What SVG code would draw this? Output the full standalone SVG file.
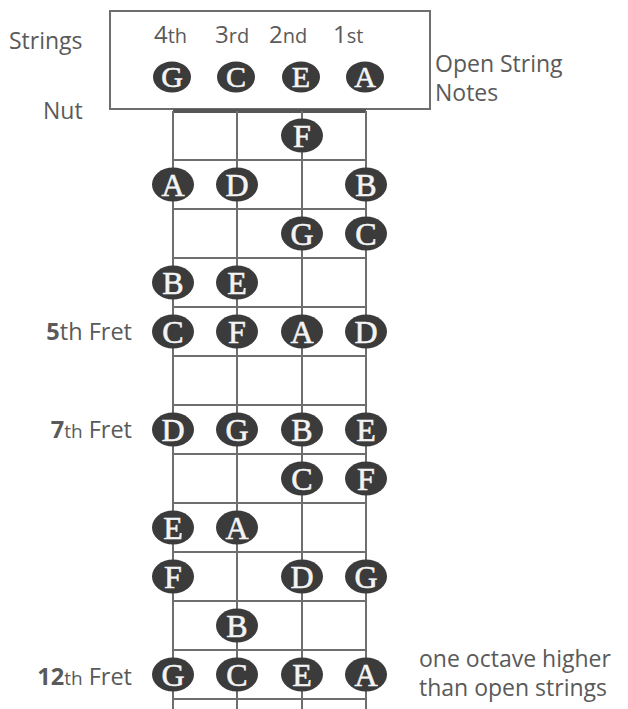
<svg xmlns="http://www.w3.org/2000/svg" width="628" height="709" viewBox="0 0 628 709">
<style>
.lbl{font-family:"Open Sans","Liberation Sans",sans-serif;fill:#5a5a5a;font-size:23px}
.hd{font-size:24px}
.sm{font-size:20px}
.b{font-weight:bold}
.fr{font-size:23.5px}
.fs{font-size:19px}
.line{stroke:#6e6e6e;stroke-width:2;fill:none}
.dot ellipse{fill:#3b3b3b}
.dot text{font-family:"Liberation Serif","Times New Roman",serif;font-size:32px;fill:#f4f4f4;stroke:#f4f4f4;stroke-width:0.6;text-anchor:middle}
.op text{font-size:30px}
</style>
<rect width="628" height="709" fill="#ffffff"/>
<g id="labels">
<text class="lbl" x="9" y="49">Strings</text>
<text class="lbl" x="43" y="119">Nut</text>
<text class="lbl hd" x="154" y="43">4<tspan class="sm">th</tspan></text>
<text class="lbl hd" x="215" y="43">3<tspan class="sm">rd</tspan></text>
<text class="lbl hd" x="269" y="43">2<tspan class="sm">nd</tspan></text>
<text class="lbl hd" x="333" y="43">1<tspan class="sm">st</tspan></text>
<text class="lbl" x="435" y="72">Open String</text>
<text class="lbl" x="435" y="101">Notes</text>
<text class="lbl fr" x="132" y="340" text-anchor="end"><tspan class="b">5</tspan>th Fret</text>
<text class="lbl fr" x="132" y="438" text-anchor="end"><tspan class="b">7</tspan><tspan class="fs">th</tspan> Fret</text>
<text class="lbl fr" x="132" y="685" text-anchor="end"><tspan class="b">12</tspan><tspan class="fs">th</tspan> Fret</text>
<text class="lbl" x="419" y="667">one octave higher</text>
<text class="lbl" x="419" y="696">than open strings</text>
</g>
<g id="board">
<rect class="line" x="110" y="11" width="320" height="98" stroke-width="1.5"/>
<line x1="173" y1="111" x2="366" y2="111" stroke="#555" stroke-width="4"/>
<g class="line">
<line x1="173" y1="111" x2="173" y2="709"/>
<line x1="237" y1="111" x2="237" y2="709"/>
<line x1="302" y1="111" x2="302" y2="709"/>
<line x1="366" y1="111" x2="366" y2="709"/>
<line x1="173" y1="160" x2="366" y2="160"/>
<line x1="173" y1="209" x2="366" y2="209"/>
<line x1="173" y1="258" x2="366" y2="258"/>
<line x1="173" y1="307" x2="366" y2="307"/>
<line x1="173" y1="356" x2="366" y2="356"/>
<line x1="173" y1="405" x2="366" y2="405"/>
<line x1="173" y1="454" x2="366" y2="454"/>
<line x1="173" y1="503" x2="366" y2="503"/>
<line x1="173" y1="552" x2="366" y2="552"/>
<line x1="173" y1="601" x2="366" y2="601"/>
<line x1="173" y1="650" x2="366" y2="650"/>
<line x1="173" y1="699" x2="366" y2="699"/>
</g>
</g>
<g id="open" class="dot op">
<ellipse cx="172" cy="77" rx="19" ry="15.5"/><text x="172" y="87">G</text>
<ellipse cx="236" cy="77" rx="19" ry="15.5"/><text x="236" y="87">C</text>
<ellipse cx="301" cy="77" rx="19" ry="15.5"/><text x="301" y="87">E</text>
<ellipse cx="365" cy="77" rx="19" ry="15.5"/><text x="365" y="87">A</text>
</g>
<g id="fret1" class="dot">
<ellipse cx="302" cy="135.5" rx="21" ry="17"/><text x="302" y="146.5">F</text>
</g>
<g id="fret2" class="dot">
<ellipse cx="173" cy="184.5" rx="21" ry="17"/><text x="173" y="195.5">A</text>
<ellipse cx="237" cy="184.5" rx="21" ry="17"/><text x="237" y="195.5">D</text>
<ellipse cx="366" cy="184.5" rx="21" ry="17"/><text x="366" y="195.5">B</text>
</g>
<g id="fret3" class="dot">
<ellipse cx="302" cy="233.5" rx="21" ry="17"/><text x="302" y="244.5">G</text>
<ellipse cx="366" cy="233.5" rx="21" ry="17"/><text x="366" y="244.5">C</text>
</g>
<g id="fret4" class="dot">
<ellipse cx="173" cy="282.5" rx="21" ry="17"/><text x="173" y="293.5">B</text>
<ellipse cx="237" cy="282.5" rx="21" ry="17"/><text x="237" y="293.5">E</text>
</g>
<g id="fret5" class="dot">
<ellipse cx="173" cy="331.5" rx="21" ry="17"/><text x="173" y="342.5">C</text>
<ellipse cx="237" cy="331.5" rx="21" ry="17"/><text x="237" y="342.5">F</text>
<ellipse cx="302" cy="331.5" rx="21" ry="17"/><text x="302" y="342.5">A</text>
<ellipse cx="366" cy="331.5" rx="21" ry="17"/><text x="366" y="342.5">D</text>
</g>
<g id="fret7" class="dot">
<ellipse cx="173" cy="429.5" rx="21" ry="17"/><text x="173" y="440.5">D</text>
<ellipse cx="237" cy="429.5" rx="21" ry="17"/><text x="237" y="440.5">G</text>
<ellipse cx="302" cy="429.5" rx="21" ry="17"/><text x="302" y="440.5">B</text>
<ellipse cx="366" cy="429.5" rx="21" ry="17"/><text x="366" y="440.5">E</text>
</g>
<g id="fret8" class="dot">
<ellipse cx="302" cy="478.5" rx="21" ry="17"/><text x="302" y="489.5">C</text>
<ellipse cx="366" cy="478.5" rx="21" ry="17"/><text x="366" y="489.5">F</text>
</g>
<g id="fret9" class="dot">
<ellipse cx="173" cy="527.5" rx="21" ry="17"/><text x="173" y="538.5">E</text>
<ellipse cx="237" cy="527.5" rx="21" ry="17"/><text x="237" y="538.5">A</text>
</g>
<g id="fret10" class="dot">
<ellipse cx="173" cy="576.5" rx="21" ry="17"/><text x="173" y="587.5">F</text>
<ellipse cx="302" cy="576.5" rx="21" ry="17"/><text x="302" y="587.5">D</text>
<ellipse cx="366" cy="576.5" rx="21" ry="17"/><text x="366" y="587.5">G</text>
</g>
<g id="fret11" class="dot">
<ellipse cx="237" cy="625.5" rx="21" ry="17"/><text x="237" y="636.5">B</text>
</g>
<g id="fret12" class="dot">
<ellipse cx="173" cy="674.5" rx="21" ry="17"/><text x="173" y="685.5">G</text>
<ellipse cx="237" cy="674.5" rx="21" ry="17"/><text x="237" y="685.5">C</text>
<ellipse cx="302" cy="674.5" rx="21" ry="17"/><text x="302" y="685.5">E</text>
<ellipse cx="366" cy="674.5" rx="21" ry="17"/><text x="366" y="685.5">A</text>
</g>
</svg>
